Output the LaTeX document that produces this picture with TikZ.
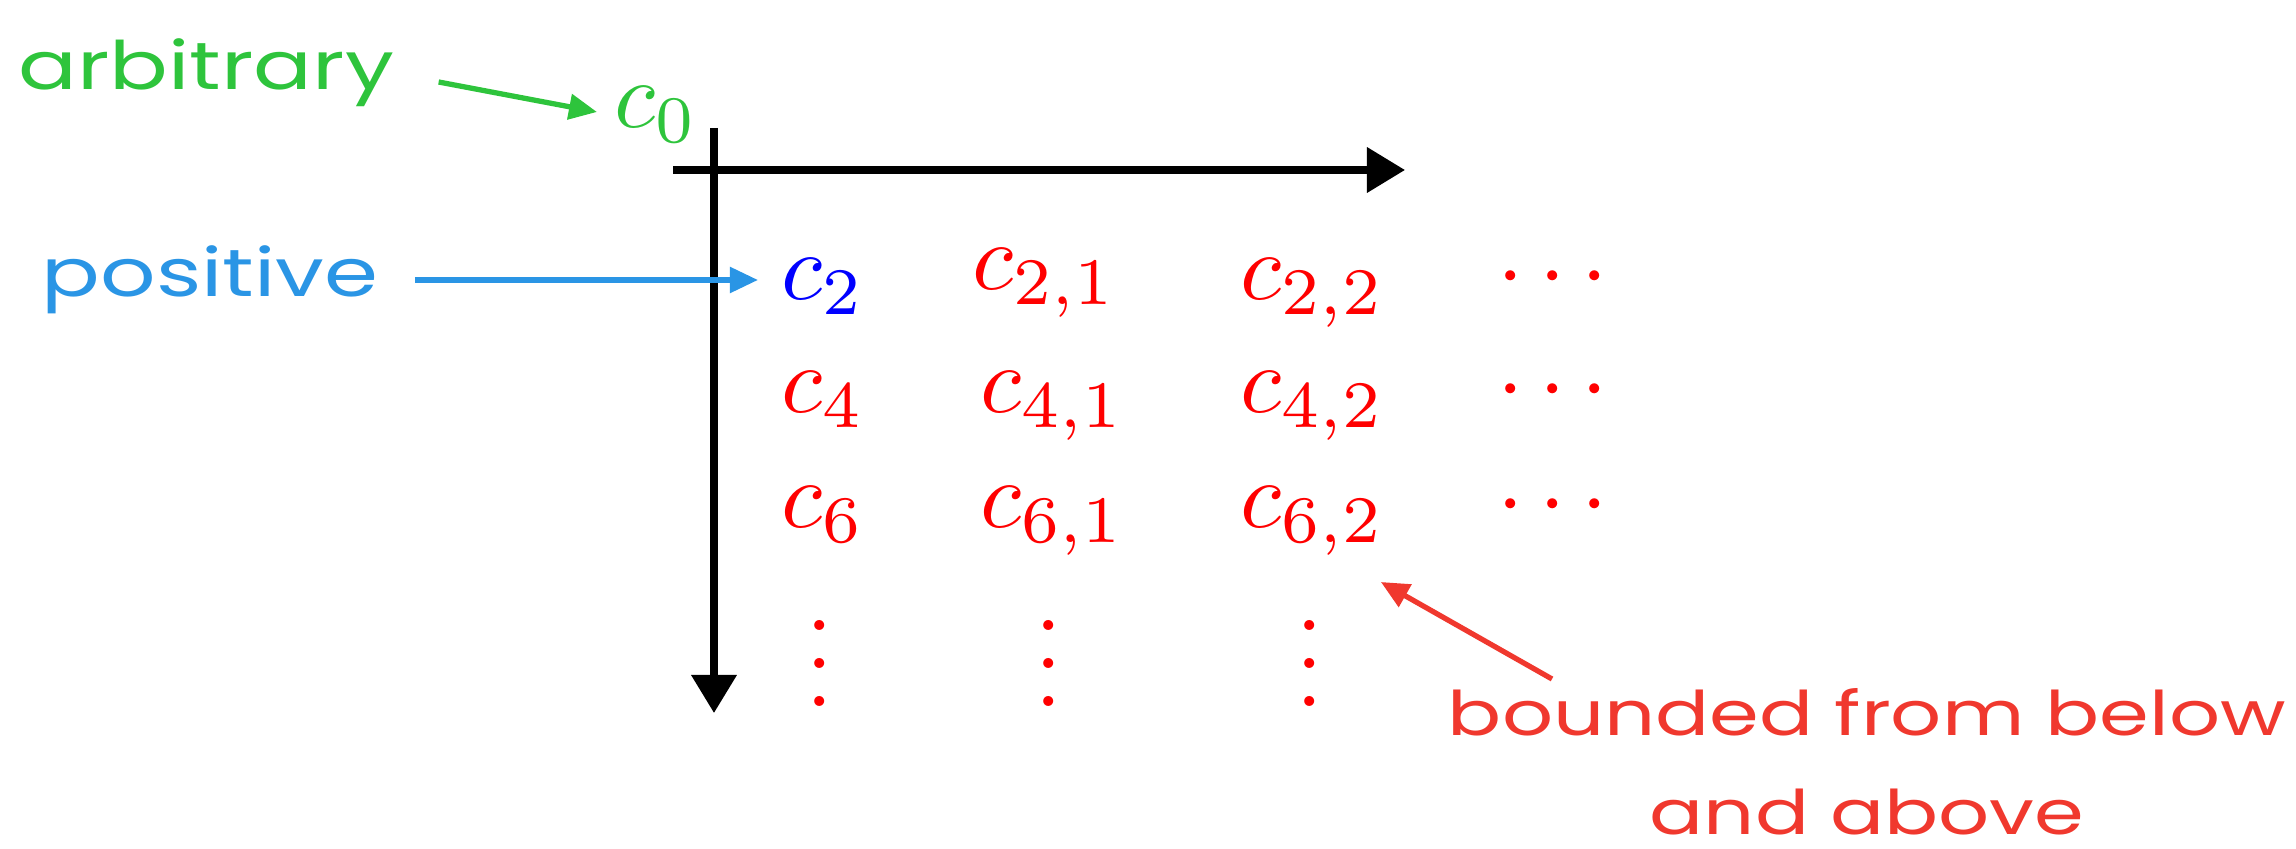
\documentclass[tikz,border=0pt]{standalone}
\usepackage{fontspec}
\usetikzlibrary{arrows.meta}

\newfontfamily\handfont[FakeStretch=1.3]{Poppins}

\definecolor{handgreen}{RGB}{46,196,60}
\definecolor{handblue}{RGB}{42,149,229}
\definecolor{handred}{RGB}{240,56,46}

\tikzset{
	entry/.style={anchor=base west, inner sep=0pt, red, scale=2.7, transform shape, font=\normalsize},
	dotsnode/.style={anchor=base, inner sep=0pt, red, scale=2.7, transform shape, font=\normalsize},
	note/.style={inner sep=0pt, font=\handfont\fontsize{19}{28}\selectfont},
	pointer/.style={line width=1.5pt, -{Triangle[length=0.28cm,width=0.25cm]}},
	axis/.style={line width=2pt, -{Triangle[length=0.38cm,width=0.44cm]}},
}

\begin{document}
\begin{tikzpicture}[x=0.01cm, y=-0.01cm]
		\useasboundingbox (0,0) rectangle (2296,849);
		
		% Axes
		\coordinate (origin) at (714,170);
		\draw[axis] (714,128) -- (714,713);
		\draw[axis] (673,170) -- (1405,170);
		
		% First entries
		\node[entry, handgreen] (c0) at (613,128) {$c_0$};
		\node[entry, blue] (c2) at (780,300) {$c_2$};
		\node[entry] (c21) at (971,290) {$c_{2,1}$};
		\node[entry] (c22) at (1239,300) {$c_{2,2}$};
		\node[dotsnode] (d2) at (1553,300) {$\cdots$};
		
		% Remaining rows
		\foreach \i/\y in {4/413, 6/528} {
			\node[entry] (c\i) at (780,\y) {$c_{\i}$};
			\node[entry] (c\i1) at (979,\y) {$c_{\i,1}$};
			\node[entry] (c\i2) at (1239,\y) {$c_{\i,2}$};
			\node[dotsnode] (d\i) at (1553,\y) {$\cdots$};
		}
		\foreach \x/\n in {820/1, 1049/2, 1310/3}
			\node[dotsnode] (v\n) at (\x,706) {$\vdots$};
		
		% Notes
		\node[note, anchor=base west, handgreen] (arbitrary) at (18,90) {arbitrary};
		\node[note, anchor=base west, handblue] (positive) at (41,297) {positive};
		\node[note, anchor=base, align=center, handred, font=\handfont\fontsize{17.5}{28}\selectfont] (bounded) at (1867,834) {bounded from below\\and above};
		
		% Pointers
		\draw[pointer, handgreen] ([shift={(44,-8)}]arbitrary.base east) -- ([shift={(-16,-16)}]c0.base west);
		\draw[pointer, handblue] ([shift={(36,-17)}]positive.base east) -- ([shift={(-22,-20)}]c2.base west);
		\draw[pointer, handred] ([shift={(-315,-155)}]bounded.base) -- ([shift={(-6,54)}]c62.base east);
	\end{tikzpicture}
\end{document}
